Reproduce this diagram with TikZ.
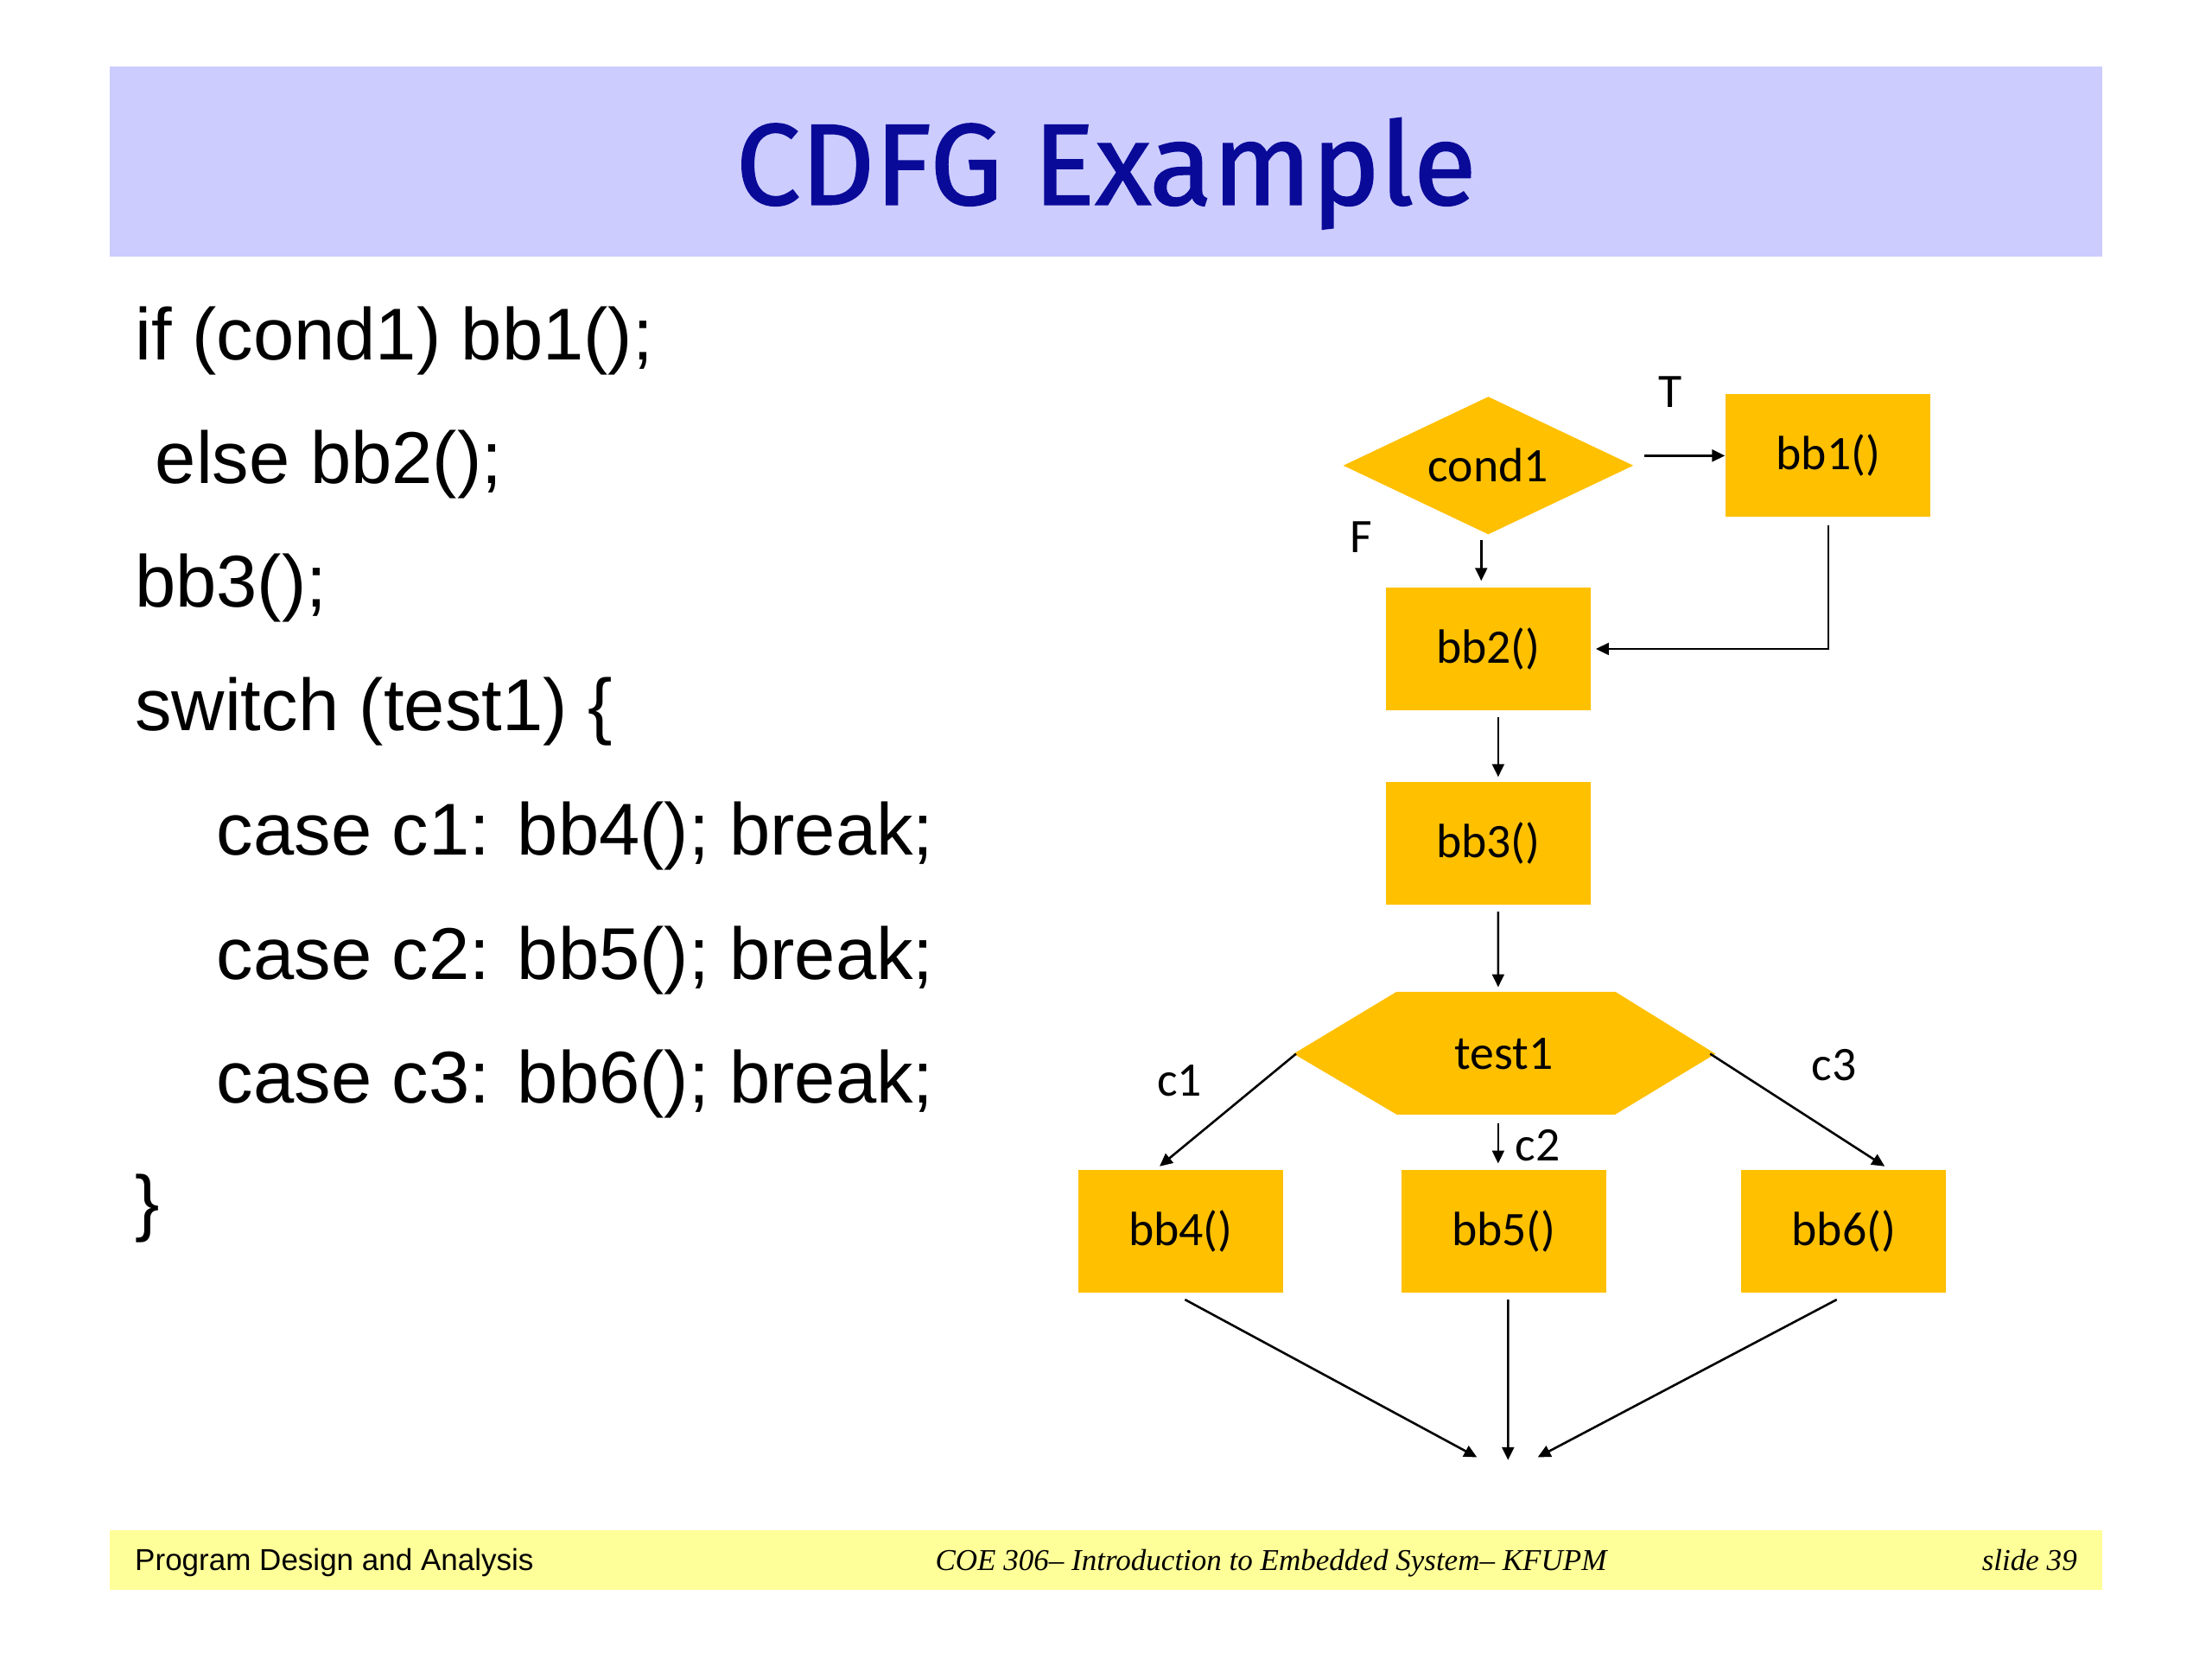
\documentclass[tikz,border=0pt]{standalone}
\usepackage{fontspec}
\setmainfont{Liberation Sans}
\newfontfamily\titlefont[FakeBold=1.2]{Fira Sans}
\newfontfamily\flowfont{Carlito}
\newfontfamily\footserif{Liberation Serif}
\usetikzlibrary{shapes.geometric,arrows.meta}
\definecolor{gold}{RGB}{255,192,0}
\definecolor{banner}{RGB}{204,204,255}
\definecolor{footer}{RGB}{255,255,153}
\definecolor{titleblue}{RGB}{10,10,153}
\begin{document}
\begin{tikzpicture}[x=0.01cm,y=0.01cm]
\tikzstyle{every node}+=[inner sep=0pt]
\tikzstyle{block}=[fill=gold, minimum width=1.45cm, minimum height=0.87cm, font=\flowfont\fontsize{9.7}{11}\selectfont]
\tikzstyle{decide}=[block, shape=diamond, aspect=2.1, minimum width=2.06cm, minimum height=0.98cm]
\tikzstyle{hexbox}=[minimum width=2.99cm, minimum height=0.87cm, font=\flowfont\fontsize{9.7}{11}\selectfont]
\tikzstyle{tag}=[font=\flowfont\fontsize{9.7}{11}\selectfont]
\tikzstyle{code}=[anchor=base west, font=\fontsize{14.8}{17}\selectfont]
\tikzstyle{flow}=[line width=0.45pt, -{Triangle[length=2.6pt,width=2.4pt]}]
\useasboundingbox (0,0) rectangle (1568,-1176);
% title and footer bands
\fill [banner] (78,-47) rectangle (1490,-182);
\node [anchor=base, text=titleblue, font=\titlefont\fontsize{23.3}{28}\selectfont] (title) at (784,-145) {CDFG Example};
\fill [footer] (78,-1085) rectangle (1490,-1127);
\node [anchor=base west, font=\fontsize{6.1}{7}\selectfont] (foot1) at (95,-1113) {Program Design and Analysis};
\node [anchor=base, font=\footserif\itshape\fontsize{6.1}{7}\selectfont] (foot2) at (901,-1113) {COE 306– Introduction to Embedded System– KFUPM};
\node [anchor=base east, font=\footserif\itshape\fontsize{6.1}{7}\selectfont] (foot3) at (1473,-1113) {slide 39};
% source code
\node [code] (line1) at (95,-255) {if (cond1) bb1();};
\node [code] (line2) at (95,-343) {\ else bb2();};
\node [code] (line3) at (95,-430) {bb3();};
\node [code] (line4) at (95,-518) {switch (test1) \{};
\node [code] (line5) at (153,-606) {case c1: bb4(); break;};
\node [code] (line6) at (153,-694) {case c2: bb5(); break;};
\node [code] (line7) at (153,-782) {case c3: bb6(); break;};
\node [code] (line8) at (95,-870) {\}};
% graph
\node [decide] (cond1) at (1055,-330) {cond1};
\node [block] (bb1) at (1296,-323) {bb1()};
\node [block] (bb2) at (1055,-460) {bb2()};
\node [block] (bb3) at (1055,-598) {bb3()};
\fill [gold] (917,-747) -- (990,-703) -- (1145,-703) -- (1216,-747) -- (1145,-790) -- (990,-790) -- cycle;
\node [hexbox] (test1) at (1066,-747) {test1};
\node [block] (bb4) at (837,-873) {bb4()};
\node [block] (bb5) at (1066,-873) {bb5()};
\node [block] (bb6) at (1307,-873) {bb6()};
\coordinate (sink) at (1069,-1035);
\node [tag] (T) at (1184,-278) {T};
\node [tag] (F) at (965,-381) {F};
\node [tag] (c1) at (836,-766) {c1};
\node [tag] (c2) at (1090,-812) {c2};
\node [tag] (c3) at (1300,-755) {c3};
\draw [flow] ([xshift=0.07cm]cond1.east |- bb1.west) -- (bb1.west);
\draw [flow] ([xshift=-0.05cm,yshift=-0.03cm]cond1.south) -- ([xshift=-0.05cm,yshift=0.04cm]bb2.north);
\draw [flow] ([yshift=-0.05cm]bb1.south) |- ([xshift=0.03cm]bb2.east);
\draw [flow] ([xshift=0.07cm,yshift=-0.04cm]bb2.south) -- ([xshift=0.07cm,yshift=0.03cm]bb3.north);
\draw [flow] ([xshift=0.07cm,yshift=-0.04cm]bb3.south) -- ([xshift=-0.04cm,yshift=0.03cm]test1.north);
\draw [flow] ([xshift=0.03cm]test1.west) -- ([xshift=-0.15cm,yshift=0.02cm]bb4.north);
\draw [flow] ([xshift=-0.04cm,yshift=-0.05cm]test1.south) -- ([xshift=-0.04cm,yshift=0.04cm]bb5.north);
\draw [flow] ([xshift=-0.04cm]test1.east) -- ([xshift=0.29cm,yshift=0.02cm]bb6.north);
\draw [flow] ([xshift=0.03cm,yshift=-0.04cm]bb4.south) -- ([xshift=-0.22cm,yshift=0.02cm]sink);
\draw [flow] ([xshift=0.03cm,yshift=-0.04cm]bb5.south) -- (sink);
\draw [flow] ([xshift=-0.05cm,yshift=-0.04cm]bb6.south) -- ([xshift=0.21cm,yshift=0.02cm]sink);
\end{tikzpicture}
\end{document}
